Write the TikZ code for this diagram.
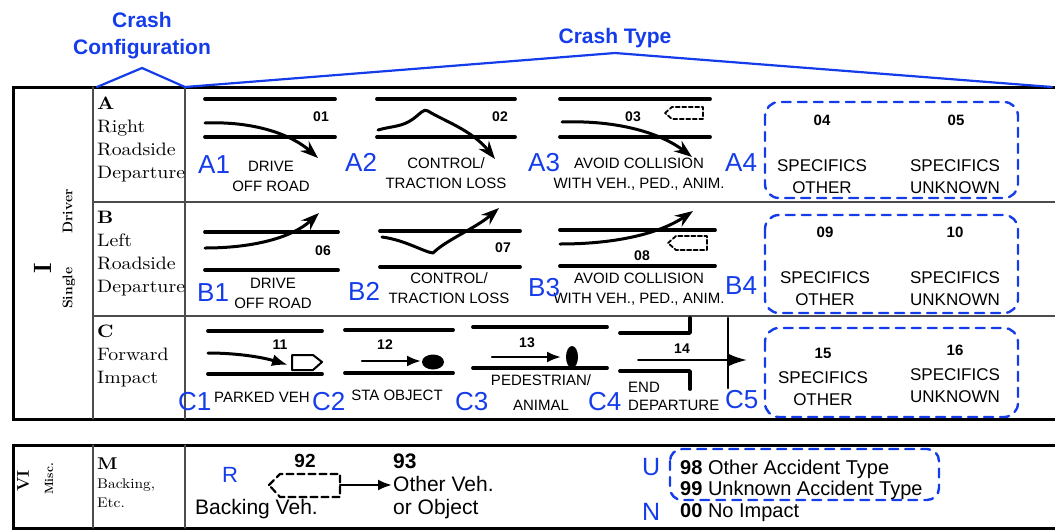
\documentclass[tikz,border=0pt]{standalone}
\usepackage{fontspec}
\newfontfamily\arial{Liberation Sans}
\newfontfamily\lmwide{lmroman10-regular.otf}[FakeStretch=1.1,BoldFont=lmroman10-bold.otf]
\usetikzlibrary{arrows.meta}
\definecolor{crashblue}{RGB}{20,60,235}

\tikzset{
  road/.style={line width=3.8pt},
  drivepath/.style={line width=3pt,-{Stealth[length=18pt,width=13pt,inset=6pt]}},
  tablerule/.style={line width=1.1pt,black!70},
  outerframe/.style={line width=3pt,line join=miter,line cap=butt},
  casenum/.style={font=\arial\bfseries\fontsize{14}{14}\selectfont,inner sep=0pt},
  caselab/.style={font=\arial\fontsize{15}{20}\selectfont,align=center,anchor=base,inner sep=0pt},
  casetag/.style={font=\arial\fontsize{26}{26}\selectfont,text=crashblue,anchor=base west,inner sep=0pt},
  cfglab/.style={font=\lmwide\fontsize{18}{23}\selectfont,align=left,anchor=base west,inner sep=0pt},
  specbox/.style={draw=crashblue,line width=2.4pt,dash pattern=on 9pt off 7pt,rounded corners=14pt},
  specnum/.style={font=\arial\bfseries\fontsize{15}{15}\selectfont,inner sep=0pt},
  speclab/.style={font=\arial\fontsize{17}{22}\selectfont,align=center,anchor=base,inner sep=0pt},
  dashveh/.style={line width=1.8pt,dash pattern=on 4pt off 2.5pt},
  hitarrow/.style={line width=2.4pt,-{Latex[length=14pt,width=11pt]}},
}

\begin{document}
\begin{tikzpicture}[x=1pt,y=-1pt,>=Stealth,line join=round,line cap=round]
\useasboundingbox (0,0) rectangle (1055,531);
% table frames
\draw[outerframe] (1056,87) -- (13,87) -- (13,419) -- (1056,419);
\draw[outerframe] (1056,445) -- (13,445) -- (13,528) -- (1056,528);
\draw[tablerule] (93,87) -- (93,419) (185,87) -- (185,419);
\draw[tablerule] (93,202) -- (1056,202) (93,316) -- (1056,316);
\draw[tablerule] (93,445) -- (93,528) (185,445) -- (185,528);

% headings (base = last line)
\node[font=\arial\bfseries\fontsize{21}{27}\selectfont,text=crashblue,align=center,anchor=base] (config) at (142,54) {Crash\\Configuration};
\node[font=\arial\bfseries\fontsize{21}{21}\selectfont,text=crashblue,anchor=base] (ctype) at (615,43) {Crash Type};
\draw[crashblue,line width=2.2pt] (97,87) -- (142,68) -- (185,87) -- (615,53) -- (1052,87);

% groups
\node[rotate=90,font=\bfseries\fontsize{25}{25}\selectfont,inner sep=0pt] (grpI) at (43,268) {I};
\node[rotate=90,font=\bfseries\fontsize{14}{14}\selectfont,inner sep=0pt] (grpIname) at (69,249) {Single\hspace{34pt}Driver};
\node[rotate=90,font=\bfseries\fontsize{17}{17}\selectfont,inner sep=0pt] (grpVI) at (23,481) {VI};
\node[rotate=90,font=\bfseries\fontsize{12}{12}\selectfont,inner sep=0pt] (grpVIname) at (49,479) {Misc.};

% configurations
\node[cfglab] (cfgA) at (97,178) {\textbf{A}\\Right\\Roadside\\Departure};
\node[cfglab] (cfgB) at (97,292) {\textbf{B}\\Left\\Roadside\\Departure};
\node[cfglab] (cfgC) at (97,383) {\textbf{C}\\Forward\\Impact};
\node[cfglab,font=\lmwide\fontsize{14}{19}\selectfont] (cfgM) at (97,507) {{\fontsize{17}{17}\selectfont\textbf{M}}\\Backing,\\Etc.};

% row A
\draw[road] (205,99) -- (335,99) (205,137) -- (335,137);
\draw[drivepath] (205,123) .. controls (255,121) and (292,135) .. (318,158);
\node[casenum] (n01) at (321,117) {01};
\node[caselab] (lab01) at (271,191) {DRIVE\\OFF ROAD};
\node[casetag] (tagA1) at (198,173) {A1};

\draw[road] (377,99) -- (515,99) (377,137) -- (515,137);
\draw[drivepath] (378,130) .. controls (392,126) and (402,127) .. (413,119) .. controls (420,114) and (424,108) .. (428,111) .. controls (442,120) and (472,130) .. (495,159);
\node[casenum] (n02) at (500,117) {02};
\node[caselab] (lab02) at (446,188) {CONTROL/\\TRACTION LOSS};
\node[casetag] (tagA2) at (345,171) {A2};

\draw[road] (560,99) -- (710,99) (560,137) -- (710,137);
\draw[drivepath] (562,122) .. controls (620,120) and (662,134) .. (692,157);
\draw[dashveh] (665,113) -- (672,107) -- (703,107) -- (703,119) -- (672,119) -- cycle;
\node[casenum] (n03) at (633,117) {03};
\node[caselab] (lab03) at (639,188) {AVOID COLLISION\\WITH VEH., PED., ANIM.};
\node[casetag] (tagA3) at (528,171) {A3};
\node[casetag] (tagA4) at (725,171) {A4};

% row B
\draw[road] (205,232) -- (338,232) (205,270) -- (338,270);
\draw[drivepath] (205,248) .. controls (252,248) and (292,238) .. (319,213);
\node[casenum] (n06) at (323,251) {06};
\node[caselab] (lab06) at (273,308) {DRIVE\\OFF ROAD};
\node[casetag] (tagB1) at (197,301) {B1};

\draw[road] (380,231) -- (520,231) (380,267) -- (520,267);
\draw[drivepath] (382,237) .. controls (405,240) and (424,252) .. (433,253) .. controls (446,240) and (476,228) .. (499,208);
\node[casenum] (n07) at (503,248) {07};
\node[caselab] (lab07) at (449,303) {CONTROL/\\TRACTION LOSS};
\node[casetag] (tagB2) at (348,300) {B2};

\draw[road] (560,230) -- (715,230) (560,266) -- (715,266);
\draw[drivepath] (560,244) .. controls (620,244) and (662,232) .. (693,211);
\draw[dashveh] (668,243) -- (676,236) -- (707,236) -- (707,250) -- (676,250) -- cycle;
\node[casenum] (n08) at (642,256) {08};
\node[caselab] (lab08) at (639,303) {AVOID COLLISION\\WITH VEH., PED., ANIM.};
\node[casetag] (tagB3) at (528,296) {B3};
\node[casetag] (tagB4) at (725,294) {B4};

% row C
\draw[road] (208,331) -- (322,331) (208,374) -- (322,374);
\draw[line width=3pt,-{Latex[length=16pt,width=12pt]}] (208,353) .. controls (240,353) and (265,358) .. (288,365);
\draw[line width=2pt] (292,355) -- (313,355) -- (322,362) -- (313,370) -- (292,370) -- cycle;
\node[casenum] (n11) at (280,345) {11};
\node[caselab] (lab11) at (262,402) {PARKED VEH};
\node[casetag] (tagC1) at (178,410) {C1};

\draw[road] (345,330) -- (453,330) (345,373) -- (453,373);
\draw[hitarrow] (362,361) -- (421,361);
\fill (433,362) ellipse [x radius=11, y radius=7.5];
\node[casenum] (n12) at (385,345) {12};
\node[caselab] (lab12) at (397,400) {STA OBJECT};
\node[casetag] (tagC2) at (312,410) {C2};

\draw[road] (473,327) -- (607,327) (473,368) -- (607,368);
\draw[hitarrow] (492,357) -- (561,357);
\fill (572,357) ellipse [x radius=6, y radius=11];
\node[casenum] (n13) at (527,343) {13};
\node[caselab] (lab13) at (541,410) {PEDESTRIAN/\\[5pt]ANIMAL};
\node[casetag] (tagC3) at (455,410) {C3};

\draw[road] (620,333) -- (690,333) -- (690,318) (620,371) -- (690,371) -- (690,389);
\draw[line width=2.6pt] (728,318) -- (728,388);
\draw[line width=2pt,-{Latex[length=18pt,width=12pt]}] (638,360) -- (747,360);
\node[casenum] (n14) at (682,349) {14};
\node[caselab,align=left,anchor=base west,font=\arial\fontsize{15}{18}\selectfont] (lab14) at (628,410) {END\\DEPARTURE};
\node[casetag] (tagC4) at (588,410) {C4};
\node[casetag] (tagC5) at (725,408) {C5};

% specifics boxes
\draw[specbox] (765,102) rectangle (1018,198);
\node[specnum] (n04) at (822,120) {04};
\node[specnum] (n05) at (956,120) {05};
\node[speclab] (lab04) at (822,193) {SPECIFICS\\OTHER};
\node[speclab] (lab05) at (955,193) {SPECIFICS\\UNKNOWN};

\draw[specbox] (765,215) rectangle (1018,313);
\node[specnum] (n09) at (825,232) {09};
\node[specnum] (n10) at (955,232) {10};
\node[speclab] (lab09) at (825,305) {SPECIFICS\\OTHER};
\node[speclab] (lab10) at (955,305) {SPECIFICS\\UNKNOWN};

\draw[specbox] (765,328) rectangle (1018,417);
\node[specnum] (n15) at (823,353) {15};
\node[specnum] (n16) at (955,350) {16};
\node[speclab] (lab15) at (823,405) {SPECIFICS\\OTHER};
\node[speclab] (lab16) at (955,402) {SPECIFICS\\UNKNOWN};

% misc row
\node[casetag,font=\arial\fontsize{22}{22}\selectfont] (tagR) at (222,482) {R};
\draw[line width=2.2pt,dash pattern=on 7pt off 4pt] (269,485) -- (280,474) -- (340,474) -- (340,497) -- (280,497) -- cycle;
\coordinate (backveh) at (340,485);
\coordinate (hitobj) at (392,485);
\draw[hitarrow] (backveh) -- (hitobj);
\node[font=\arial\bfseries\fontsize{19}{19}\selectfont,inner sep=0pt] (n92) at (305,461) {92};
\node[font=\arial\fontsize{21}{21}\selectfont,anchor=base west,inner sep=0pt] (lab92) at (195,514) {Backing Veh.};
\node[font=\arial\fontsize{21}{23}\selectfont,align=left,anchor=base west,inner sep=0pt] (lab93) at (393,514) {\textbf{93}\\Other Veh.\\or Object};

\draw[specbox,rounded corners=12pt] (670,449) rectangle (939,500);
\node[casetag,font=\arial\fontsize{25}{25}\selectfont] (tagU) at (642,475) {U};
\node[casetag,font=\arial\fontsize{25}{25}\selectfont] (tagN) at (642,520) {N};
\node[font=\arial\fontsize{20}{21.5}\selectfont,align=left,anchor=base west,inner sep=0pt] (lab98) at (680,517) {\textbf{98} Other Accident Type\\\textbf{99} Unknown Accident Type\\\textbf{00} No Impact};
\end{tikzpicture}
\end{document}
